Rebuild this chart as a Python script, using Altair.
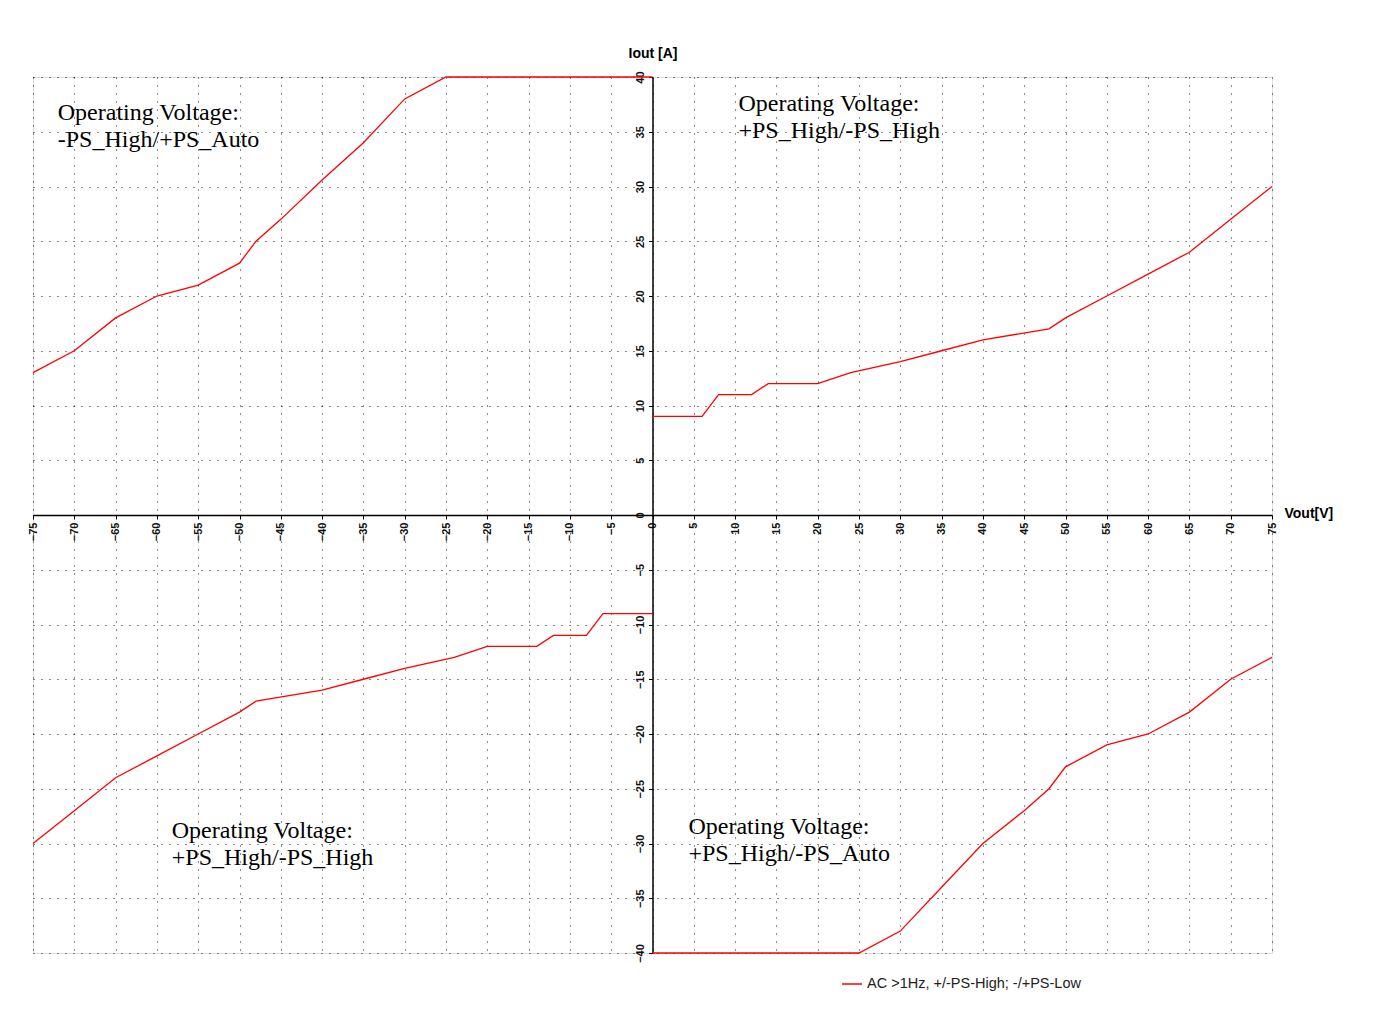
import altair as alt
import pandas as pd

# Quadrant curves (Vout [V], Iout [A])
q1_v = [0, 6, 8, 12, 14, 20, 24, 30, 35, 40, 48, 50, 55, 60, 65, 70, 75]
q1_i = [9, 9, 11, 11, 12, 12, 13, 14, 15, 16, 17, 18, 20, 22, 24, 27, 30]
q2_v = [-75, -70, -65, -60, -55, -50, -48, -45, -40, -35, -30, -25, 0]
q2_i = [13, 15, 18, 20, 21, 23, 25, 27, 30.6, 34, 38, 40, 40]
q3_v = [-75, -70, -65, -60, -55, -50, -48, -40, -35, -30, -24, -20, -14, -12, -8, -6, 0]
q3_i = [-30, -27, -24, -22, -20, -18, -17, -16, -15, -14, -13, -12, -12, -11, -11, -9, -9]
q4_v = [0, 25, 30, 35, 40, 45, 48, 50, 55, 60, 65, 70, 75]
q4_i = [-40, -40, -38, -34, -30, -27, -25, -23, -21, -20, -18, -15, -13]

series_name = "AC >1Hz,  +/-PS-High; -/+PS-Low"

x_ticks = [-75, -70, -65, -60, -55, -50, -45, -40, -35, -30, -25, -20, -15, -10, -5,
           0, 5, 10, 15, 20, 25, 30, 35, 40, 45, 50, 55, 60, 65, 70, 75]
y_ticks = [-40, -35, -30, -25, -20, -15, -10, -5, 0, 5, 10, 15, 20, 25, 30, 35, 40]

note_text = ["Operating Voltage:\n-PS_High/+PS_Auto",
             "Operating Voltage:\n+PS_High/-PS_High",
             "Operating Voltage:\n+PS_High/-PS_High",
             "Operating Voltage:\n+PS_High/-PS_Auto"]
note_v = [-72, 10.4, -58.2, 4.35]
note_i = [36.1, 36.9, -29.5, -29.15]

rows = []
for seg, (vs, is_) in enumerate([(q1_v, q1_i), (q2_v, q2_i), (q3_v, q3_i), (q4_v, q4_i)]):
    for v, i in zip(vs, is_):
        rows.append({"seg": seg, "V": v, "I": i, "series": series_name})
df = pd.DataFrame(rows)
notes = pd.DataFrame({"V": note_v, "I": note_i, "t": note_text})

W, H = 1239, 876

xscale = alt.Scale(domain=[-75, 75], nice=False, zero=False)
yscale = alt.Scale(domain=[-40, 40], nice=False, zero=False)

common_axis = dict(
    grid=True, gridDash=[1, 7], gridColor="#000000", gridOpacity=0.9, gridWidth=1,
    domainColor="#000000", domainWidth=1.5, tickColor="#000000", tickSize=4,
    labelFont="Liberation Sans", labelFontSize=11, labelFontWeight="bold",
    labelColor="#111111",
    labelAngle=270, labelFlush=False, labelOverlap=False, labelBound=False,
    titleFont="Liberation Sans", titleFontSize=14, titleFontWeight="bold",
    titleColor="#000000", titleAngle=0,
)

x_axis = alt.Axis(orient="bottom", offset=-H / 2, values=x_ticks, title="Vout[V]",
                  titleX=W + 12, titleY=-2, titleAlign="left", titleBaseline="middle",
                  labelPadding=3, **common_axis)
y_axis = alt.Axis(orient="left", offset=-W / 2, values=y_ticks, title="Iout [A]",
                  titleX=0, titleY=-24, titleAlign="center", titleBaseline="middle",
                  labelPadding=3, **common_axis)

lines = alt.Chart(df).mark_line(strokeWidth=1.3).encode(
    x=alt.X("V:Q", scale=xscale, axis=x_axis),
    y=alt.Y("I:Q", scale=yscale, axis=y_axis),
    detail="seg:N",
    color=alt.Color("series:N", scale=alt.Scale(domain=[series_name], range=["#ff0000"]),
                    legend=alt.Legend(title=None, orient="none", legendX=808, legendY=896,
                                      symbolType="stroke", symbolSize=400,
                                      symbolStrokeWidth=1.5, labelFont="Liberation Sans",
                                      labelFontSize=14.5, labelColor="#222222",
                                      labelOffset=4, labelLimit=0)),
)

texts = alt.Chart(notes).mark_text(
    font="Liberation Serif", fontSize=24, align="left", baseline="alphabetic",
    lineBreak="\n", lineHeight=27, color="#000000",
).encode(
    x=alt.X("V:Q", scale=xscale),
    y=alt.Y("I:Q", scale=yscale),
    text="t:N",
)

chart = alt.layer(lines, texts).properties(
    width=W, height=H,
    autosize=alt.AutoSizeParams(type="none"),
    padding={"left": 25, "top": 69, "right": 90, "bottom": 60},
).configure_view(stroke=None).configure(background="white")

chart.save("out.html", embed_options={"renderer": "svg", "actions": False})
